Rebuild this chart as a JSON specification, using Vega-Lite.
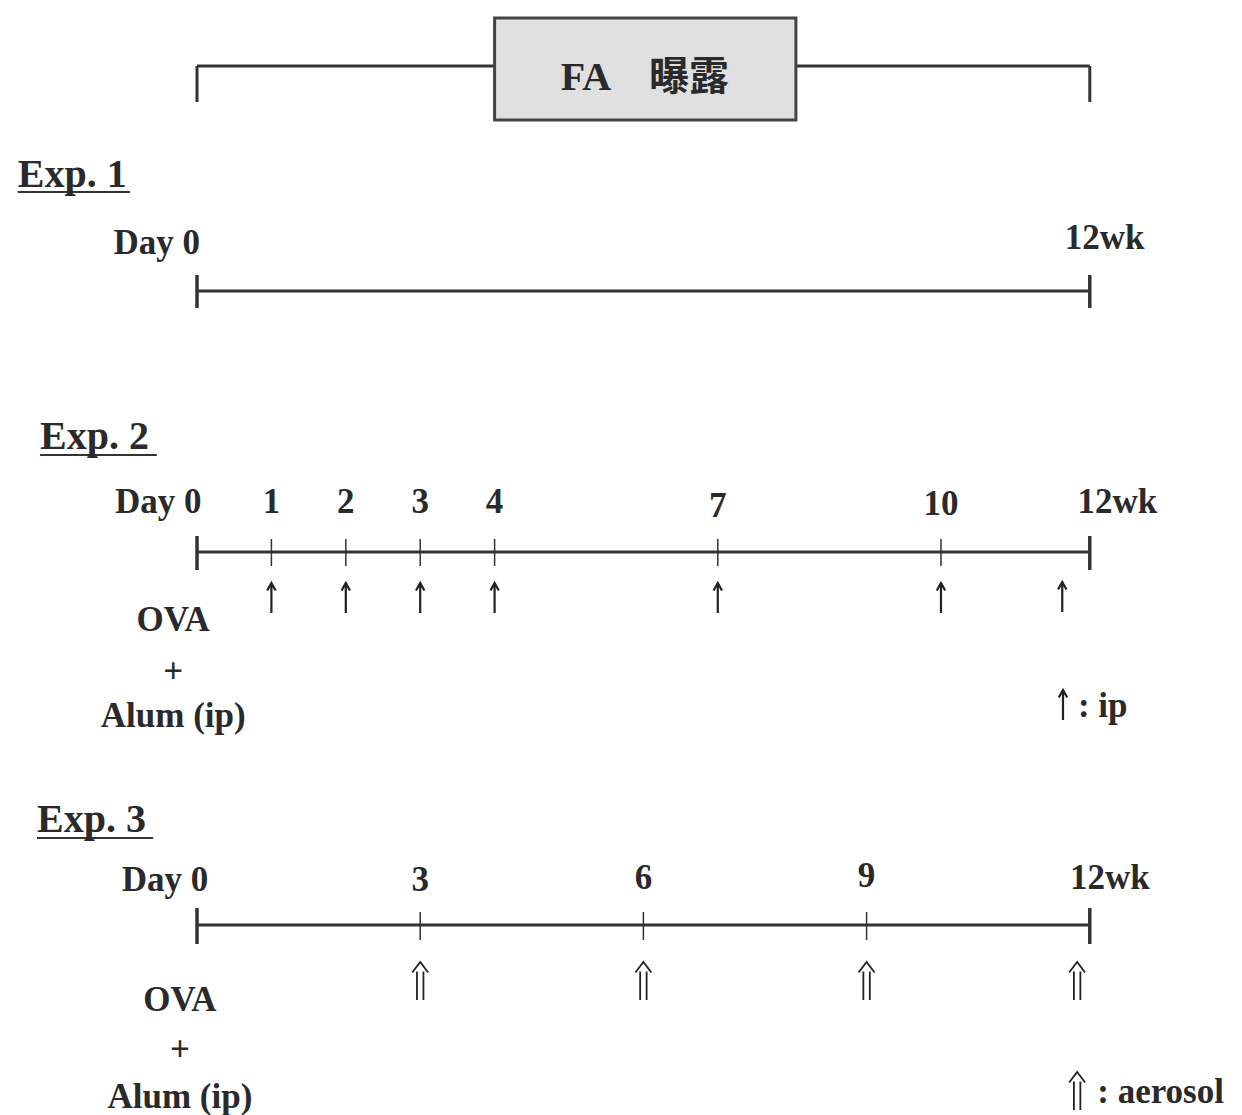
{
  "$schema": "https://vega.github.io/schema/vega-lite/v6.json",
  "width": 1242,
  "height": 1115,
  "padding": 0,
  "autosize": {"type": "fit", "contains": "padding"},
  "background": "white",
  "config": {"view": {"stroke": null}},
  "datasets": {
    "box": [{"x": 4.0, "x2": 8.05, "y": 18, "y2": 120, "label": "FA　曝露", "xm": 6.02, "ym": 78}],
    "timelines": [
      {"row": "bracket", "x": 0, "x2": 12, "y": 66},
      {"row": "Exp. 1", "x": 0, "x2": 12, "y": 291},
      {"row": "Exp. 2", "x": 0, "x2": 12, "y": 552},
      {"row": "Exp. 3", "x": 0, "x2": 12, "y": 925}
    ],
    "bracketEnds": [
      {"x": 0, "y": 66, "y2": 102},
      {"x": 12, "y": 66, "y2": 102}
    ],
    "endTicks": [
      {"row": "Exp. 1", "x": 0, "y": 275, "y2": 308},
      {"row": "Exp. 1", "x": 12, "y": 275, "y2": 308},
      {"row": "Exp. 2", "x": 0, "y": 536, "y2": 570},
      {"row": "Exp. 2", "x": 12, "y": 536, "y2": 570},
      {"row": "Exp. 3", "x": 0, "y": 908, "y2": 944},
      {"row": "Exp. 3", "x": 12, "y": 908, "y2": 944}
    ],
    "minorTicks": [
      {"row": "Exp. 2", "x": 1, "y": 539, "y2": 566},
      {"row": "Exp. 2", "x": 2, "y": 539, "y2": 566},
      {"row": "Exp. 2", "x": 3, "y": 539, "y2": 566},
      {"row": "Exp. 2", "x": 4, "y": 539, "y2": 566},
      {"row": "Exp. 2", "x": 7, "y": 539, "y2": 566},
      {"row": "Exp. 2", "x": 10, "y": 539, "y2": 566},
      {"row": "Exp. 3", "x": 3, "y": 912, "y2": 940},
      {"row": "Exp. 3", "x": 6, "y": 912, "y2": 940},
      {"row": "Exp. 3", "x": 9, "y": 912, "y2": 940}
    ],
    "titles": [
      {"label": "Exp. 1", "x": -2.41, "x2": -0.9, "y": 175, "uy": 192},
      {"label": "Exp. 2", "x": -2.11, "x2": -0.54, "y": 437, "uy": 455},
      {"label": "Exp. 3", "x": -2.15, "x2": -0.59, "y": 820, "uy": 838}
    ],
    "weekLabels": [
      {"row": "Exp. 1", "label": "Day 0", "x": -0.54, "y": 243},
      {"row": "Exp. 1", "label": "12wk", "x": 12.2, "y": 238},
      {"row": "Exp. 2", "label": "Day 0", "x": -0.52, "y": 502},
      {"row": "Exp. 2", "label": "1", "x": 1, "y": 502},
      {"row": "Exp. 2", "label": "2", "x": 2, "y": 502},
      {"row": "Exp. 2", "label": "3", "x": 3, "y": 502},
      {"row": "Exp. 2", "label": "4", "x": 4, "y": 502},
      {"row": "Exp. 2", "label": "7", "x": 7, "y": 506},
      {"row": "Exp. 2", "label": "10", "x": 10, "y": 504},
      {"row": "Exp. 2", "label": "12wk", "x": 12.37, "y": 502},
      {"row": "Exp. 3", "label": "Day 0", "x": -0.43, "y": 880},
      {"row": "Exp. 3", "label": "3", "x": 3, "y": 880},
      {"row": "Exp. 3", "label": "6", "x": 6, "y": 878},
      {"row": "Exp. 3", "label": "9", "x": 9, "y": 876},
      {"row": "Exp. 3", "label": "12wk", "x": 12.27, "y": 878}
    ],
    "sideLabels": [
      {"row": "Exp. 2", "label": "OVA", "x": -0.32, "y": 620},
      {"row": "Exp. 2", "label": "+", "x": -0.32, "y": 672},
      {"row": "Exp. 2", "label": "Alum (ip)", "x": -0.32, "y": 716},
      {"row": "Exp. 3", "label": "OVA", "x": -0.23, "y": 1000},
      {"row": "Exp. 3", "label": "+", "x": -0.23, "y": 1050},
      {"row": "Exp. 3", "label": "Alum (ip)", "x": -0.23, "y": 1097}
    ],
    "ipArrows": [
      {"x": 1, "y": 598},
      {"x": 2, "y": 598},
      {"x": 3, "y": 598},
      {"x": 4, "y": 598},
      {"x": 7, "y": 598},
      {"x": 10, "y": 598},
      {"x": 11.63, "y": 597},
      {"x": 11.64, "y": 705}
    ],
    "aerosolArrows": [
      {"x": 3, "y": 981},
      {"x": 6, "y": 981},
      {"x": 9, "y": 981},
      {"x": 11.83, "y": 981},
      {"x": 11.83, "y": 1091}
    ],
    "legendText": [
      {"label": ": ip", "x": 11.84, "y": 706},
      {"label": ": aerosol", "x": 12.1, "y": 1092}
    ]
  },
  "encoding": {
    "x": {"type": "quantitative", "scale": {"domain": [-2.648, 14.046], "nice": false, "zero": false}, "axis": null},
    "y": {"type": "quantitative", "scale": {"domain": [0, 1115], "nice": false, "zero": false, "reverse": true}, "axis": null}
  },
  "layer": [
    {
      "data": {"name": "timelines"},
      "mark": {"type": "rule", "strokeWidth": 3, "color": "#333333"},
      "encoding": {"x": {"field": "x"}, "x2": {"field": "x2"}, "y": {"field": "y"}}
    },
    {
      "data": {"name": "bracketEnds"},
      "mark": {"type": "rule", "strokeWidth": 3, "color": "#333333"},
      "encoding": {"x": {"field": "x"}, "y": {"field": "y"}, "y2": {"field": "y2"}}
    },
    {
      "data": {"name": "box"},
      "mark": {"type": "rect", "fill": "#e0e0e0", "stroke": "#444444", "strokeWidth": 3},
      "encoding": {"x": {"field": "x"}, "x2": {"field": "x2"}, "y": {"field": "y"}, "y2": {"field": "y2"}}
    },
    {
      "data": {"name": "box"},
      "mark": {"type": "text", "font": "Liberation Serif, Noto Sans CJK JP", "fontWeight": "bold", "fontSize": 40, "color": "#2a2a2a", "align": "center", "baseline": "middle"},
      "encoding": {"x": {"field": "xm"}, "y": {"field": "ym"}, "text": {"field": "label"}}
    },
    {
      "data": {"name": "endTicks"},
      "mark": {"type": "rule", "strokeWidth": 3.5, "color": "#333333"},
      "encoding": {"x": {"field": "x"}, "y": {"field": "y"}, "y2": {"field": "y2"}}
    },
    {
      "data": {"name": "minorTicks"},
      "mark": {"type": "rule", "strokeWidth": 1.5, "color": "#333333"},
      "encoding": {"x": {"field": "x"}, "y": {"field": "y"}, "y2": {"field": "y2"}}
    },
    {
      "data": {"name": "titles"},
      "mark": {"type": "rule", "strokeWidth": 2, "color": "#333333"},
      "encoding": {"x": {"field": "x"}, "x2": {"field": "x2"}, "y": {"field": "uy"}}
    },
    {
      "data": {"name": "titles"},
      "mark": {"type": "text", "font": "Liberation Serif", "fontWeight": "bold", "fontSize": 40, "color": "#2a2a2a", "align": "left", "baseline": "middle"},
      "encoding": {"x": {"field": "x"}, "y": {"field": "y"}, "text": {"field": "label"}}
    },
    {
      "data": {"name": "weekLabels"},
      "mark": {"type": "text", "font": "Liberation Serif", "fontWeight": "bold", "fontSize": 35, "color": "#2a2a2a", "align": "center", "baseline": "middle"},
      "encoding": {"x": {"field": "x"}, "y": {"field": "y"}, "text": {"field": "label"}}
    },
    {
      "data": {"name": "sideLabels"},
      "mark": {"type": "text", "font": "Liberation Serif", "fontWeight": "bold", "fontSize": 35, "color": "#2a2a2a", "align": "center", "baseline": "middle"},
      "encoding": {"x": {"field": "x"}, "y": {"field": "y"}, "text": {"field": "label"}}
    },
    {
      "data": {"name": "legendText"},
      "mark": {"type": "text", "font": "Liberation Serif", "fontWeight": "bold", "fontSize": 35, "color": "#2a2a2a", "align": "left", "baseline": "middle"},
      "encoding": {"x": {"field": "x"}, "y": {"field": "y"}, "text": {"field": "label"}}
    },
    {
      "data": {"name": "ipArrows"},
      "mark": {"type": "point", "shape": "M0,1L0,-1M-0.28,-0.5L0,-1L0.28,-0.5", "size": 900, "filled": false, "stroke": "#222222", "strokeWidth": 2.2, "opacity": 1},
      "encoding": {"x": {"field": "x"}, "y": {"field": "y"}}
    },
    {
      "data": {"name": "aerosolArrows"},
      "mark": {"type": "point", "shape": "M-0.17,1L-0.17,-0.5M0.17,1L0.17,-0.5M-0.42,-0.45L0,-1L0.42,-0.45", "size": 1444, "filled": false, "stroke": "#222222", "strokeWidth": 1.8, "opacity": 1},
      "encoding": {"x": {"field": "x"}, "y": {"field": "y"}}
    }
  ]
}
